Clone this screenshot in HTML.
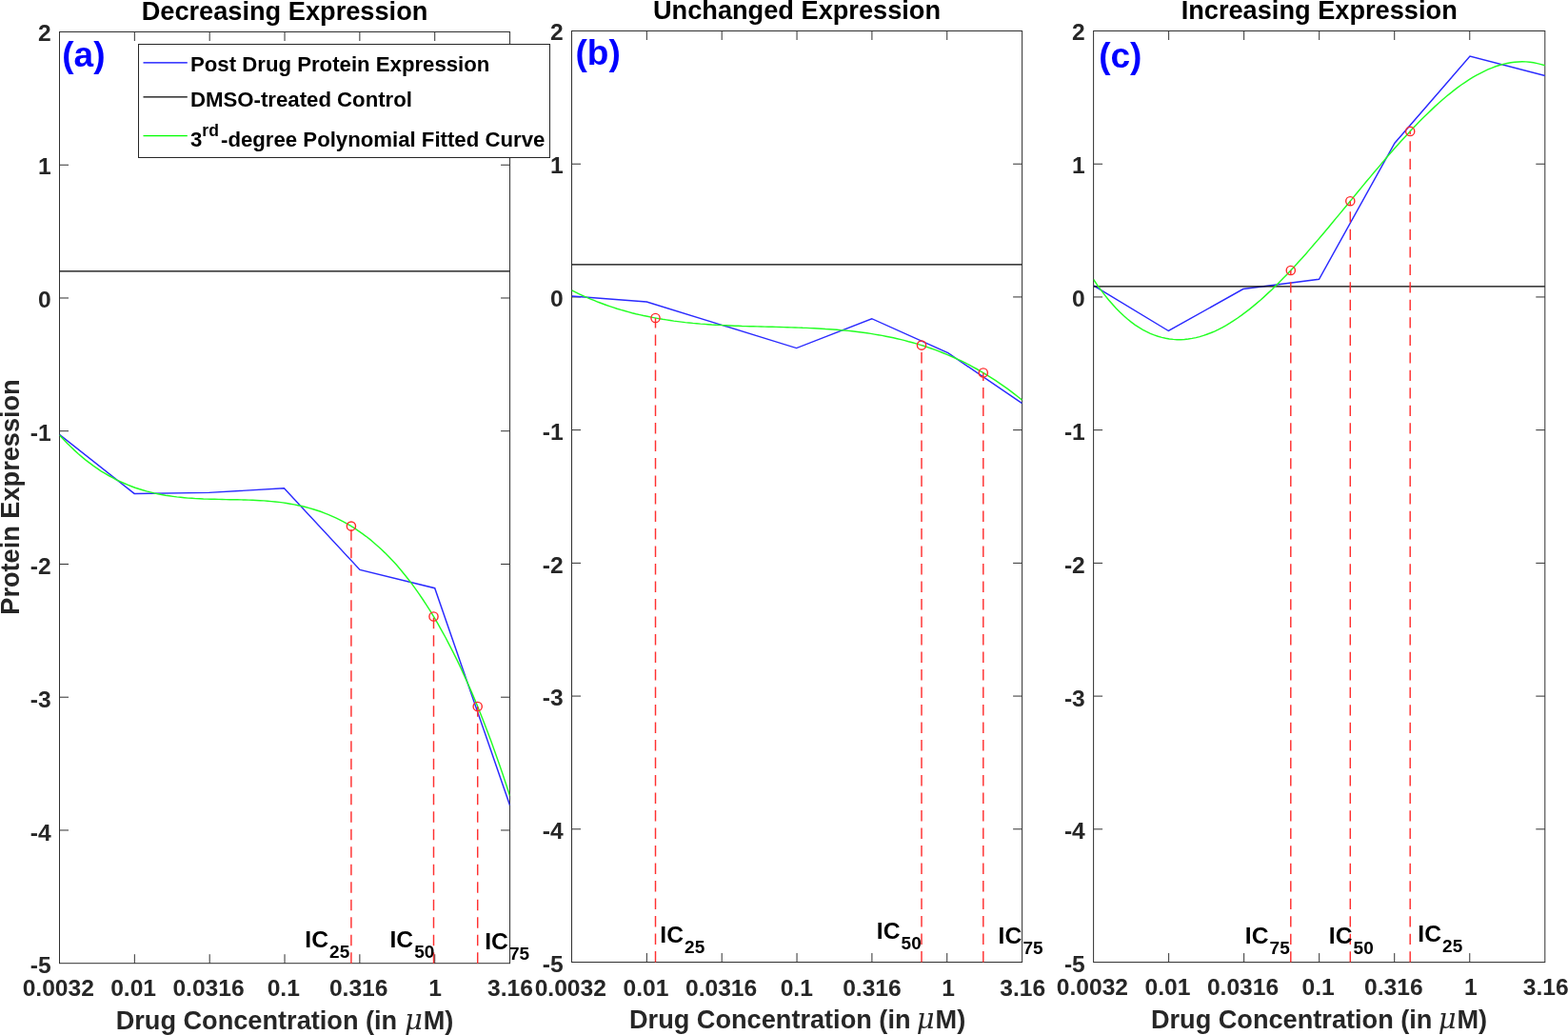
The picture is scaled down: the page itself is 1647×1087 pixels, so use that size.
<!DOCTYPE html>
<html lang="en"><head><meta charset="utf-8"><title>Protein expression dose response</title>
<style>html,body{margin:0;padding:0;background:#fff;overflow:hidden}svg{display:block}</style></head>
<body>
<svg width="1647" height="1087" viewBox="0 0 1647 1087" font-family="'Liberation Sans', Arial, sans-serif" font-weight="bold">
<rect width="1647" height="1087" fill="#fff"/>
<g id="ax0">
<rect x="62.5" y="33.5" width="473.04999999999995" height="978.2" fill="#fff" stroke="#303030" stroke-width="1"/>
<path d="M141.34 1011.7v-9.5M141.34 33.5v9.5M220.18 1011.7v-9.5M220.18 33.5v9.5M299.02 1011.7v-9.5M299.02 33.5v9.5M377.87 1011.7v-9.5M377.87 33.5v9.5M456.71 1011.7v-9.5M456.71 33.5v9.5M62.5 173.24h9.5M535.55 173.24h-9.5M62.5 312.99h9.5M535.55 312.99h-9.5M62.5 452.73h9.5M535.55 452.73h-9.5M62.5 592.47h9.5M535.55 592.47h-9.5M62.5 732.21h9.5M535.55 732.21h-9.5M62.5 871.96h9.5M535.55 871.96h-9.5" stroke="#303030" stroke-width="1" fill="none"/>
<clipPath id="c0"><rect x="62.5" y="33.5" width="473.04999999999995" height="978.2"/></clipPath>
<g clip-path="url(#c0)" fill="none">
<polyline points="62.4,456.4 141.1,518.4 219.4,517.4 298.4,512.8 378.0,598.4 456.7,617.7 535.6,845.9" stroke="#2a2aff" stroke-width="1.45" stroke-linejoin="miter"/>
<line x1="62.5" x2="535.55" y1="284.8" y2="284.8" stroke="#000" stroke-width="1.25"/>
<polyline points="62.5,456.9 66.5,461.2 70.5,465.4 74.4,469.3 78.4,473.1 82.4,476.7 86.4,480.1 90.3,483.4 94.3,486.4 98.3,489.4 102.3,492.1 106.2,494.8 110.2,497.2 114.2,499.5 118.2,501.7 122.1,503.8 126.1,505.7 130.1,507.5 134.1,509.2 138.0,510.7 142.0,512.2 146.0,513.5 150.0,514.7 153.9,515.9 157.9,516.9 161.9,517.9 165.9,518.7 169.8,519.5 173.8,520.2 177.8,520.8 181.8,521.4 185.7,521.9 189.7,522.3 193.7,522.7 197.7,523.1 201.6,523.3 205.6,523.6 209.6,523.8 213.6,524.0 217.5,524.1 221.5,524.2 225.5,524.3 229.5,524.4 233.4,524.5 237.4,524.6 241.4,524.7 245.4,524.7 249.3,524.8 253.3,524.9 257.3,525.0 261.3,525.1 265.2,525.3 269.2,525.5 273.2,525.7 277.2,525.9 281.1,526.2 285.1,526.6 289.1,527.0 293.1,527.4 297.0,527.9 301.0,528.5 305.0,529.2 309.0,529.9 312.9,530.7 316.9,531.5 320.9,532.5 324.9,533.6 328.8,534.7 332.8,536.0 336.8,537.3 340.8,538.8 344.7,540.4 348.7,542.1 352.7,543.9 356.7,545.8 360.6,547.9 364.6,550.1 368.6,552.4 372.6,554.9 376.5,557.6 380.5,560.4 384.5,563.3 388.5,566.4 392.4,569.7 396.4,573.2 400.4,576.8 404.4,580.6 408.3,584.6 412.3,588.8 416.3,593.1 420.3,597.7 424.2,602.5 428.2,607.5 432.2,612.6 436.2,618.1 440.1,623.7 444.1,629.5 448.1,635.6 452.1,641.9 456.0,648.4 460.0,655.2 464.0,662.3 468.0,669.5 471.9,677.1 475.9,684.9 479.9,692.9 483.9,701.3 487.8,709.9 491.8,718.7 495.8,727.9 499.8,737.3 503.7,747.1 507.7,757.1 511.7,767.4 515.7,778.1 519.6,789.0 523.6,800.2 527.6,811.8 531.6,823.7 535.5,835.9" stroke="#22ff22" stroke-width="1.45"/>
</g>
<line x1="368.9" x2="368.9" y1="1011.7" y2="552.6" stroke="#ff3030" stroke-width="1.45" stroke-dasharray="11.4 7.1"/>
<circle cx="368.9" cy="552.6" r="4.6" fill="none" stroke="#ff2a2a" stroke-width="1.4"/>
<line x1="455.5" x2="455.5" y1="1011.7" y2="647.5" stroke="#ff3030" stroke-width="1.45" stroke-dasharray="11.4 7.1"/>
<circle cx="455.5" cy="647.5" r="4.6" fill="none" stroke="#ff2a2a" stroke-width="1.4"/>
<line x1="501.7" x2="501.7" y1="1011.7" y2="742.0" stroke="#ff3030" stroke-width="1.45" stroke-dasharray="11.4 7.1"/>
<circle cx="501.7" cy="742.0" r="4.6" fill="none" stroke="#ff2a2a" stroke-width="1.4"/>
<text x="61.3" y="1046.0" font-size="24.6" fill="#262626" text-anchor="middle">0.0032</text>
<text x="140.1" y="1046.0" font-size="24.6" fill="#262626" text-anchor="middle">0.01</text>
<text x="219.0" y="1046.0" font-size="24.6" fill="#262626" text-anchor="middle">0.0316</text>
<text x="297.8" y="1046.0" font-size="24.6" fill="#262626" text-anchor="middle">0.1</text>
<text x="376.7" y="1046.0" font-size="24.6" fill="#262626" text-anchor="middle">0.316</text>
<text x="457.1" y="1046.0" font-size="24.6" fill="#262626" text-anchor="middle">1</text>
<text x="536.0" y="1046.0" font-size="24.6" fill="#262626" text-anchor="middle">3.16</text>
<text x="53.7" y="43.0" font-size="24.6" fill="#262626" text-anchor="end">2</text>
<text x="53.7" y="182.9" font-size="24.6" fill="#262626" text-anchor="end">1</text>
<text x="53.7" y="322.8" font-size="24.6" fill="#262626" text-anchor="end">0</text>
<text x="53.7" y="462.7" font-size="24.6" fill="#262626" text-anchor="end">-1</text>
<text x="53.7" y="602.7" font-size="24.6" fill="#262626" text-anchor="end">-2</text>
<text x="53.7" y="742.6" font-size="24.6" fill="#262626" text-anchor="end">-3</text>
<text x="53.7" y="882.5" font-size="24.6" fill="#262626" text-anchor="end">-4</text>
<text x="53.7" y="1022.4" font-size="24.6" fill="#262626" text-anchor="end">-5</text>
<text x="299.0" y="21.3" font-size="27.2" fill="#000" text-anchor="middle">Decreasing Expression</text>
<text x="299.0" y="1081.0" font-size="27.15" fill="#262626" text-anchor="middle">Drug Concentration (in <tspan font-family="'DejaVu Serif', 'Liberation Serif', serif" font-style="italic" font-weight="normal" font-size="29" dx="0.3">μ</tspan><tspan dx="0.8">M)</tspan></text>
<text x="65.3" y="69.6" font-size="37" fill="#0000ff">(a)</text>
<text x="320.3" y="994.6" font-size="24.6" fill="#000">IC<tspan font-size="19.0" dy="11" dx="1.2">25</tspan></text>
<text x="409.5" y="994.6" font-size="24.6" fill="#000">IC<tspan font-size="19.0" dy="11" dx="1.2">50</tspan></text>
<text x="509.2" y="997.0" font-size="24.6" fill="#000">IC<tspan font-size="19.0" dy="11" dx="1.2">75</tspan></text>
</g>
<g id="ax1">
<rect x="600.5" y="32.5" width="473.0999999999999" height="978.0" fill="#fff" stroke="#303030" stroke-width="1"/>
<path d="M679.35 1010.5v-9.5M679.35 32.5v9.5M758.2 1010.5v-9.5M758.2 32.5v9.5M837.05 1010.5v-9.5M837.05 32.5v9.5M915.9 1010.5v-9.5M915.9 32.5v9.5M994.75 1010.5v-9.5M994.75 32.5v9.5M600.5 172.21h9.5M1073.6 172.21h-9.5M600.5 311.93h9.5M1073.6 311.93h-9.5M600.5 451.64h9.5M1073.6 451.64h-9.5M600.5 591.36h9.5M1073.6 591.36h-9.5M600.5 731.07h9.5M1073.6 731.07h-9.5M600.5 870.79h9.5M1073.6 870.79h-9.5" stroke="#303030" stroke-width="1" fill="none"/>
<clipPath id="c1"><rect x="600.5" y="32.5" width="473.0999999999999" height="978.0"/></clipPath>
<g clip-path="url(#c1)" fill="none">
<polyline points="600.6,311.0 679.3,317.0 758.1,341.4 836.6,365.6 915.7,334.7 995.8,370.7 1073.6,423.6" stroke="#2a2aff" stroke-width="1.45" stroke-linejoin="miter"/>
<line x1="600.5" x2="1073.6" y1="277.95" y2="277.95" stroke="#000" stroke-width="1.25"/>
<polyline points="600.5,304.9 604.5,306.9 608.5,308.8 612.4,310.6 616.4,312.4 620.4,314.1 624.4,315.7 628.3,317.3 632.3,318.8 636.3,320.2 640.3,321.6 644.2,322.9 648.2,324.2 652.2,325.4 656.2,326.5 660.1,327.6 664.1,328.7 668.1,329.7 672.1,330.6 676.0,331.5 680.0,332.3 684.0,333.1 688.0,333.9 691.9,334.6 695.9,335.3 699.9,335.9 703.9,336.5 707.8,337.1 711.8,337.6 715.8,338.1 719.8,338.6 723.7,339.0 727.7,339.4 731.7,339.7 735.7,340.1 739.6,340.4 743.6,340.7 747.6,341.0 751.6,341.2 755.5,341.4 759.5,341.6 763.5,341.8 767.5,342.0 771.5,342.2 775.4,342.3 779.4,342.5 783.4,342.6 787.4,342.7 791.3,342.8 795.3,342.9 799.3,343.0 803.3,343.1 807.2,343.2 811.2,343.3 815.2,343.4 819.2,343.5 823.1,343.6 827.1,343.7 831.1,343.9 835.1,344.0 839.0,344.1 843.0,344.3 847.0,344.4 851.0,344.6 854.9,344.8 858.9,345.0 862.9,345.2 866.9,345.5 870.8,345.7 874.8,346.0 878.8,346.3 882.8,346.7 886.7,347.0 890.7,347.4 894.7,347.8 898.7,348.3 902.6,348.8 906.6,349.3 910.6,349.8 914.6,350.4 918.6,351.1 922.5,351.7 926.5,352.4 930.5,353.2 934.5,354.0 938.4,354.8 942.4,355.7 946.4,356.6 950.4,357.6 954.3,358.7 958.3,359.7 962.3,360.9 966.3,362.1 970.2,363.3 974.2,364.6 978.2,366.0 982.2,367.4 986.1,368.9 990.1,370.5 994.1,372.1 998.1,373.8 1002.0,375.5 1006.0,377.3 1010.0,379.2 1014.0,381.2 1017.9,383.2 1021.9,385.3 1025.9,387.5 1029.9,389.8 1033.8,392.1 1037.8,394.6 1041.8,397.1 1045.8,399.7 1049.7,402.3 1053.7,405.1 1057.7,407.9 1061.7,410.9 1065.6,413.9 1069.6,417.0 1073.6,420.2" stroke="#22ff22" stroke-width="1.45"/>
</g>
<line x1="688.5" x2="688.5" y1="1010.5" y2="334.0" stroke="#ff3030" stroke-width="1.45" stroke-dasharray="11.4 7.1"/>
<circle cx="688.5" cy="334.0" r="4.6" fill="none" stroke="#ff2a2a" stroke-width="1.4"/>
<line x1="968.0" x2="968.0" y1="1010.5" y2="362.6" stroke="#ff3030" stroke-width="1.45" stroke-dasharray="11.4 7.1"/>
<circle cx="968.0" cy="362.6" r="4.6" fill="none" stroke="#ff2a2a" stroke-width="1.4"/>
<line x1="1032.8" x2="1032.8" y1="1010.5" y2="391.5" stroke="#ff3030" stroke-width="1.45" stroke-dasharray="11.4 7.1"/>
<circle cx="1032.8" cy="391.5" r="4.6" fill="none" stroke="#ff2a2a" stroke-width="1.4"/>
<text x="599.3" y="1045.5" font-size="24.6" fill="#262626" text-anchor="middle">0.0032</text>
<text x="678.5" y="1045.5" font-size="24.6" fill="#262626" text-anchor="middle">0.01</text>
<text x="757.6" y="1045.5" font-size="24.6" fill="#262626" text-anchor="middle">0.0316</text>
<text x="836.8" y="1045.5" font-size="24.6" fill="#262626" text-anchor="middle">0.1</text>
<text x="915.9" y="1045.5" font-size="24.6" fill="#262626" text-anchor="middle">0.316</text>
<text x="996.2" y="1045.5" font-size="24.6" fill="#262626" text-anchor="middle">1</text>
<text x="1074.2" y="1045.5" font-size="24.6" fill="#262626" text-anchor="middle">3.16</text>
<text x="591.7" y="42.0" font-size="24.6" fill="#262626" text-anchor="end">2</text>
<text x="591.7" y="181.9" font-size="24.6" fill="#262626" text-anchor="end">1</text>
<text x="591.7" y="321.8" font-size="24.6" fill="#262626" text-anchor="end">0</text>
<text x="591.7" y="461.7" font-size="24.6" fill="#262626" text-anchor="end">-1</text>
<text x="591.7" y="601.5" font-size="24.6" fill="#262626" text-anchor="end">-2</text>
<text x="591.7" y="741.4" font-size="24.6" fill="#262626" text-anchor="end">-3</text>
<text x="591.7" y="881.3" font-size="24.6" fill="#262626" text-anchor="end">-4</text>
<text x="591.7" y="1021.2" font-size="24.6" fill="#262626" text-anchor="end">-5</text>
<text x="837.0" y="20.3" font-size="27.2" fill="#000" text-anchor="middle">Unchanged Expression</text>
<text x="837.6" y="1079.8" font-size="27.15" fill="#262626" text-anchor="middle">Drug Concentration (in <tspan font-family="'DejaVu Serif', 'Liberation Serif', serif" font-style="italic" font-weight="normal" font-size="29" dx="-1.2">μ</tspan><tspan dx="0.8">M)</tspan></text>
<text x="604.5" y="67.6" font-size="37" fill="#0000ff">(b)</text>
<text x="693.3" y="990.4" font-size="24.6" fill="#000">IC<tspan font-size="19.0" dy="11" dx="1.2">25</tspan></text>
<text x="920.8" y="985.6" font-size="24.6" fill="#000">IC<tspan font-size="19.0" dy="11" dx="1.2">50</tspan></text>
<text x="1048.6" y="990.6" font-size="24.6" fill="#000">IC<tspan font-size="19.0" dy="11" dx="1.2">75</tspan></text>
</g>
<g id="ax2">
<rect x="1148.6" y="32.5" width="474.20000000000005" height="978.05" fill="#fff" stroke="#303030" stroke-width="1"/>
<path d="M1227.63 1010.55v-9.5M1227.63 32.5v9.5M1306.67 1010.55v-9.5M1306.67 32.5v9.5M1385.7 1010.55v-9.5M1385.7 32.5v9.5M1464.73 1010.55v-9.5M1464.73 32.5v9.5M1543.77 1010.55v-9.5M1543.77 32.5v9.5M1148.6 172.22h9.5M1622.8 172.22h-9.5M1148.6 311.94h9.5M1622.8 311.94h-9.5M1148.6 451.66h9.5M1622.8 451.66h-9.5M1148.6 591.39h9.5M1622.8 591.39h-9.5M1148.6 731.11h9.5M1622.8 731.11h-9.5M1148.6 870.83h9.5M1622.8 870.83h-9.5" stroke="#303030" stroke-width="1" fill="none"/>
<clipPath id="c2"><rect x="1148.6" y="32.5" width="474.20000000000005" height="978.05"/></clipPath>
<g clip-path="url(#c2)" fill="none">
<polyline points="1148.6,299.8 1227.4,347.5 1305.8,303.5 1385.5,293.3 1465.0,150.2 1544.0,59.1 1622.9,79.5" stroke="#2a2aff" stroke-width="1.45" stroke-linejoin="miter"/>
<line x1="1148.6" x2="1622.8" y1="300.75" y2="300.75" stroke="#000" stroke-width="1.25"/>
<polyline points="1148.6,293.5 1152.6,299.3 1156.6,304.9 1160.6,310.1 1164.5,315.0 1168.5,319.6 1172.5,324.0 1176.5,328.0 1180.5,331.7 1184.5,335.2 1188.4,338.4 1192.4,341.3 1196.4,343.9 1200.4,346.3 1204.4,348.4 1208.4,350.3 1212.4,351.9 1216.3,353.3 1220.3,354.4 1224.3,355.3 1228.3,356.0 1232.3,356.4 1236.3,356.7 1240.3,356.7 1244.2,356.5 1248.2,356.0 1252.2,355.4 1256.2,354.6 1260.2,353.6 1264.2,352.4 1268.1,351.0 1272.1,349.5 1276.1,347.8 1280.1,345.9 1284.1,343.8 1288.1,341.6 1292.1,339.2 1296.0,336.7 1300.0,334.0 1304.0,331.2 1308.0,328.2 1312.0,325.1 1316.0,321.9 1319.9,318.6 1323.9,315.2 1327.9,311.6 1331.9,307.9 1335.9,304.2 1339.9,300.3 1343.9,296.3 1347.8,292.3 1351.8,288.2 1355.8,283.9 1359.8,279.7 1363.8,275.3 1367.8,270.9 1371.8,266.4 1375.7,261.9 1379.7,257.3 1383.7,252.6 1387.7,248.0 1391.7,243.3 1395.7,238.5 1399.6,233.7 1403.6,228.9 1407.6,224.1 1411.6,219.3 1415.6,214.5 1419.6,209.6 1423.6,204.8 1427.5,200.0 1431.5,195.1 1435.5,190.3 1439.5,185.6 1443.5,180.8 1447.5,176.1 1451.5,171.4 1455.4,166.7 1459.4,162.1 1463.4,157.5 1467.4,153.0 1471.4,148.6 1475.4,144.2 1479.3,139.9 1483.3,135.6 1487.3,131.4 1491.3,127.3 1495.3,123.3 1499.3,119.4 1503.3,115.6 1507.2,111.9 1511.2,108.2 1515.2,104.7 1519.2,101.3 1523.2,98.1 1527.2,94.9 1531.1,91.9 1535.1,89.0 1539.1,86.3 1543.1,83.7 1547.1,81.2 1551.1,78.9 1555.1,76.8 1559.0,74.8 1563.0,72.9 1567.0,71.3 1571.0,69.8 1575.0,68.5 1579.0,67.4 1583.0,66.5 1586.9,65.8 1590.9,65.3 1594.9,65.0 1598.9,64.8 1602.9,64.9 1606.9,65.3 1610.8,65.8 1614.8,66.6 1618.8,67.6 1622.8,68.8" stroke="#22ff22" stroke-width="1.45"/>
</g>
<line x1="1355.8" x2="1355.8" y1="1010.55" y2="284.0" stroke="#ff3030" stroke-width="1.45" stroke-dasharray="11.4 7.1"/>
<circle cx="1355.8" cy="284.0" r="4.6" fill="none" stroke="#ff2a2a" stroke-width="1.4"/>
<line x1="1418.3" x2="1418.3" y1="1010.55" y2="211.2" stroke="#ff3030" stroke-width="1.45" stroke-dasharray="11.4 7.1"/>
<circle cx="1418.3" cy="211.2" r="4.6" fill="none" stroke="#ff2a2a" stroke-width="1.4"/>
<line x1="1481.2" x2="1481.2" y1="1010.55" y2="137.9" stroke="#ff3030" stroke-width="1.45" stroke-dasharray="11.4 7.1"/>
<circle cx="1481.2" cy="137.9" r="4.6" fill="none" stroke="#ff2a2a" stroke-width="1.4"/>
<text x="1147.4" y="1045.35" font-size="24.6" fill="#262626" text-anchor="middle">0.0032</text>
<text x="1226.4" y="1045.35" font-size="24.6" fill="#262626" text-anchor="middle">0.01</text>
<text x="1305.5" y="1045.35" font-size="24.6" fill="#262626" text-anchor="middle">0.0316</text>
<text x="1384.6" y="1045.35" font-size="24.6" fill="#262626" text-anchor="middle">0.1</text>
<text x="1463.8" y="1045.35" font-size="24.6" fill="#262626" text-anchor="middle">0.316</text>
<text x="1544.8" y="1045.35" font-size="24.6" fill="#262626" text-anchor="middle">1</text>
<text x="1623.8" y="1045.35" font-size="24.6" fill="#262626" text-anchor="middle">3.16</text>
<text x="1139.8" y="42.0" font-size="24.6" fill="#262626" text-anchor="end">2</text>
<text x="1139.8" y="181.9" font-size="24.6" fill="#262626" text-anchor="end">1</text>
<text x="1139.8" y="321.8" font-size="24.6" fill="#262626" text-anchor="end">0</text>
<text x="1139.8" y="461.7" font-size="24.6" fill="#262626" text-anchor="end">-1</text>
<text x="1139.8" y="601.6" font-size="24.6" fill="#262626" text-anchor="end">-2</text>
<text x="1139.8" y="741.5" font-size="24.6" fill="#262626" text-anchor="end">-3</text>
<text x="1139.8" y="881.3" font-size="24.6" fill="#262626" text-anchor="end">-4</text>
<text x="1139.8" y="1021.2" font-size="24.6" fill="#262626" text-anchor="end">-5</text>
<text x="1385.7" y="20.3" font-size="27.2" fill="#000" text-anchor="middle">Increasing Expression</text>
<text x="1385.5" y="1079.8" font-size="27.15" fill="#262626" text-anchor="middle">Drug Concentration (in <tspan font-family="'DejaVu Serif', 'Liberation Serif', serif" font-style="italic" font-weight="normal" font-size="29" dx="-1.2">μ</tspan><tspan dx="0.8">M)</tspan></text>
<text x="1154.2" y="70.5" font-size="37" fill="#0000ff">(c)</text>
<text x="1307.8" y="991.2" font-size="24.6" fill="#000">IC<tspan font-size="19.0" dy="11" dx="1.2">75</tspan></text>
<text x="1395.8" y="991.2" font-size="24.6" fill="#000">IC<tspan font-size="19.0" dy="11" dx="1.2">50</tspan></text>
<text x="1489.3" y="989" font-size="24.6" fill="#000">IC<tspan font-size="19.0" dy="11" dx="1.2">25</tspan></text>
</g>
<text transform="translate(19.6,522.0) rotate(-90)" font-size="27.15" fill="#262626" text-anchor="middle">Protein Expression</text>
<g id="legend"><rect x="145.5" y="46.5" width="432" height="119" fill="#fff" stroke="#262626" stroke-width="1"/>
<line x1="150.5" x2="196.8" y1="65.9" y2="65.9" stroke="#0000ff" stroke-width="1.3"/>
<text x="200" y="75.1" font-size="22.2" fill="#000">Post Drug Protein Expression</text>
<line x1="150.5" x2="196.8" y1="101.9" y2="101.9" stroke="#000" stroke-width="1.3"/>
<text x="200" y="111.6" font-size="22.2" fill="#000">DMSO-treated Control</text>
<line x1="150.5" x2="196.8" y1="142.6" y2="142.6" stroke="#00ff00" stroke-width="1.3"/>
<text x="200" y="153.5" font-size="22.2" fill="#000">3<tspan font-size="17.5" dy="-10.3">rd</tspan><tspan dy="10.3" dx="2.2">-degree Polynomial Fitted Curve</tspan></text>
</g></svg>
</body></html>
